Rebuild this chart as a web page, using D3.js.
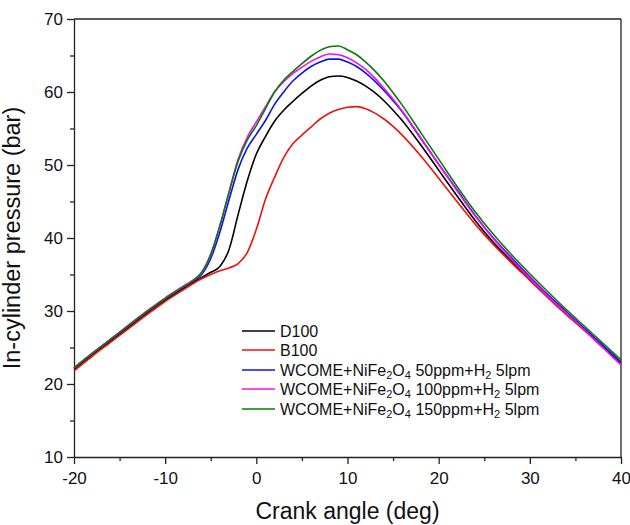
<!DOCTYPE html>
<html>
<head>
<meta charset="utf-8">
<script src="https://cdn.jsdelivr.net/npm/d3@7"></script>
<style>
  body { margin: 0; background: #fff; }
  text { font-family: "Liberation Sans", Arial, sans-serif; fill: #111; }
</style>
</head>
<body>
<div id="chart"></div>
<script>
// crank angle (deg)
var angles = [-20,-18,-16,-14,-12,-10,-8,-7,-6,-5,-4,-3,-2,-1,0,1,2,3,4,5,6,7,8,9,10,11,12,13,14,15,16,18,20,22,24,26,28,30,32,34,36,38,40];

// in-cylinder pressure (bar)
var d100  = [22.0,24.0,25.9,27.8,29.7,31.5,33.1,33.9,34.6,35.3,36.1,38.4,43.2,47.8,51.5,53.9,56.0,57.5,58.7,59.8,60.8,61.6,62.1,62.2,62.0,61.5,60.8,59.9,58.8,57.5,56.1,52.8,49.3,45.8,42.4,39.4,36.8,34.3,31.9,29.6,27.4,25.1,22.8];
var b100  = [21.8,23.8,25.7,27.6,29.5,31.3,32.9,33.7,34.4,35.0,35.5,35.9,36.5,38.0,41.2,45.3,48.3,51.0,52.9,54.1,55.2,56.3,57.1,57.6,57.9,58.0,57.7,57.1,56.3,55.3,54.1,51.3,48.2,45.0,41.9,39.1,36.6,34.2,31.8,29.5,27.3,25.0,22.7];
var np50  = [22.2,24.2,26.1,28.0,29.9,31.7,33.3,34.1,35.0,37.2,40.8,45.2,49.4,52.3,54.2,56.1,58.3,60.0,61.5,62.6,63.5,64.1,64.5,64.5,64.1,63.5,62.6,61.5,60.2,58.8,57.3,53.7,50.1,46.6,43.1,40.0,37.3,34.7,32.2,29.9,27.6,25.3,23.0];
var np100 = [22.2,24.2,26.1,28.1,30.0,31.8,33.4,34.2,35.2,37.7,41.6,46.3,50.8,53.8,55.9,58.0,60.0,61.4,62.5,63.4,64.2,64.8,65.2,65.1,64.7,64.0,63.1,61.9,60.5,59.0,57.4,53.8,50.1,46.5,43.0,39.9,37.1,34.5,32.0,29.7,27.4,25.0,22.6];
var np150 = [22.2,24.2,26.1,28.0,29.9,31.7,33.3,34.1,35.3,37.8,41.7,46.2,50.5,53.4,55.4,57.7,60.0,61.6,62.8,63.9,64.9,65.7,66.2,66.3,65.8,65.1,64.1,62.9,61.5,59.9,58.2,54.5,50.8,47.1,43.6,40.5,37.7,35.1,32.6,30.2,27.9,25.6,23.3];

var xTicks = [-20, -10, 0, 10, 20, 30, 40];
var yTicks = [10, 20, 30, 40, 50, 60, 70];

var series = [
  { name: "D100",  values: d100,  color: "#000000" },
  { name: "B100",  values: b100,  color: "#ee1111" },
  { name: "50ppm", values: np50,  color: "#1010ee" },
  { name: "100ppm", values: np100, color: "#ee11ee" },
  { name: "150ppm", values: np150, color: "#0a7a0a" }
];

var margin = { left: 74, right: 9, top: 19, bottom: 68 };
var width = 630 - margin.left - margin.right,
    height = 525 - margin.top - margin.bottom;

var svg = d3.select("#chart").append("svg")
    .attr("width", 630)
    .attr("height", 525);

var g = svg.append("g")
    .attr("transform", "translate(" + margin.left + "," + margin.top + ")");

var x = d3.scaleLinear().domain([-20, 40]).range([0, width]);
var y = d3.scaleLinear().domain([10, 70]).range([height, 0]);

// minor ticks (no labels)
g.append("g")
    .attr("transform", "translate(0," + height + ")")
    .call(d3.axisBottom(x).tickValues(d3.range(-15, 40, 10)).tickSize(4).tickFormat(""))
    .call(function(a){ a.select(".domain").remove(); });
g.append("g")
    .call(d3.axisLeft(y).tickValues(d3.range(15, 70, 10)).tickSize(4).tickFormat(""))
    .call(function(a){ a.select(".domain").remove(); });

// major axes
g.append("g")
    .attr("transform", "translate(0," + height + ")")
    .call(d3.axisBottom(x).tickValues(xTicks).tickSize(7).tickSizeOuter(0).tickPadding(8)
        .tickFormat(function(d){ return d; }));
g.append("g")
    .call(d3.axisLeft(y).tickValues(yTicks).tickSize(7).tickSizeOuter(0).tickPadding(4)
        .tickFormat(function(d){ return d; }));

g.selectAll(".tick text")
    .attr("font-size", "17px")
    .attr("font-family", "Liberation Sans, Arial, sans-serif")
    .attr("fill", "#111");
g.selectAll(".domain, .tick line").attr("stroke", "#222").attr("stroke-width", 1.3);

// frame top and right
g.append("line").attr("x1", 0).attr("x2", width).attr("y1", 0).attr("y2", 0)
    .attr("stroke", "#222").attr("stroke-width", 1.3);
g.append("line").attr("x1", width).attr("x2", width).attr("y1", 0).attr("y2", height)
    .attr("stroke", "#222").attr("stroke-width", 1.3);

// curves
var line = d3.line()
    .x(function(d){ return x(d[0]); })
    .y(function(d){ return y(d[1]); })
    .curve(d3.curveMonotoneX);

series.forEach(function(s){
  g.append("path")
      .datum(angles.map(function(a, i){ return [a, s.values[i]]; }))
      .attr("fill", "none")
      .attr("stroke", s.color)
      .attr("stroke-width", 1.6)
      .attr("d", line);
});

// axis labels
g.append("text")
    .attr("x", width / 2)
    .attr("y", height + 62)
    .attr("text-anchor", "middle")
    .attr("font-size", "23px")
    .text("Crank angle (deg)");

g.append("text")
    .attr("transform", "rotate(-90)")
    .attr("x", -height / 2)
    .attr("y", -54)
    .attr("text-anchor", "middle")
    .attr("font-size", "23.5px")
    .text("In-cylinder pressure (bar)");

// legend
var legend = g.append("g").attr("transform", "translate(168,312)");
var legendRows = [
  { color: series[0].color, parts: [["D100", 0]] },
  { color: series[1].color, parts: [["B100", 0]] },
  { color: series[2].color, parts: [["WCOME+NiFe", 0], ["2", 1], ["O", 0], ["4", 1], [" 50ppm+H", 0], ["2", 1], [" 5lpm", 0]] },
  { color: series[3].color, parts: [["WCOME+NiFe", 0], ["2", 1], ["O", 0], ["4", 1], [" 100ppm+H", 0], ["2", 1], [" 5lpm", 0]] },
  { color: series[4].color, parts: [["WCOME+NiFe", 0], ["2", 1], ["O", 0], ["4", 1], [" 150ppm+H", 0], ["2", 1], [" 5lpm", 0]] }
];
var rowY = [0, 19, 39, 58, 78];

legendRows.forEach(function(r, i){
  var row = legend.append("g").attr("transform", "translate(0," + rowY[i] + ")");
  row.append("line")
      .attr("x1", 0).attr("x2", 33)
      .attr("y1", 0).attr("y2", 0)
      .attr("stroke", r.color)
      .attr("stroke-width", 1.6);
  var t = row.append("text")
      .attr("x", 38)
      .attr("y", 6)
      .attr("font-size", "16px");
  r.parts.forEach(function(p){
    t.append("tspan")
        .attr("font-size", p[1] ? "11px" : "16px")
        .attr("baseline-shift", p[1] ? "-3" : null)
        .text(p[0]);
  });
});
</script>
</body>
</html>
